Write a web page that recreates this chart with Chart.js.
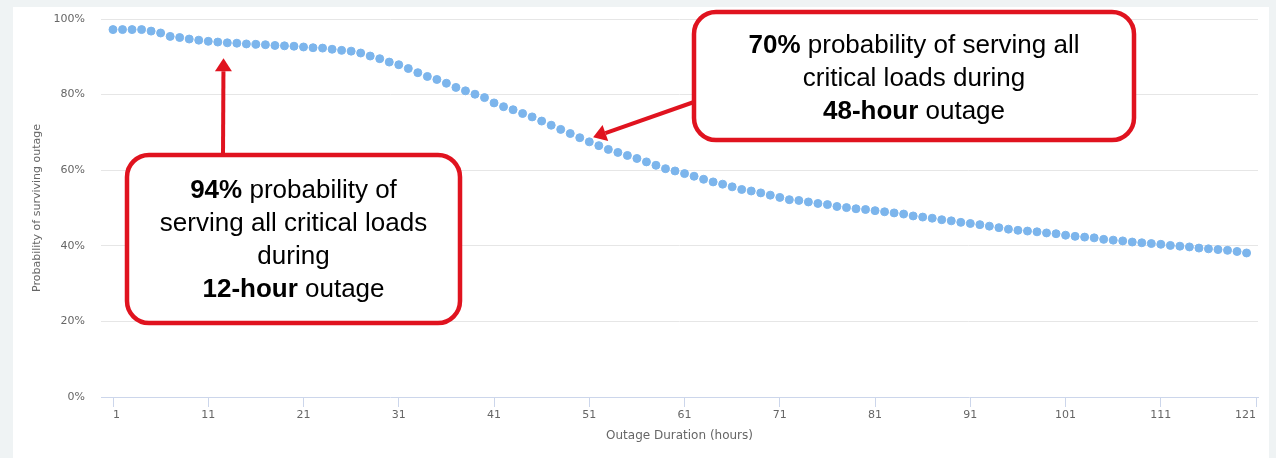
<!DOCTYPE html>
<html>
<head>
<meta charset="utf-8">
<script src="https://cdn.jsdelivr.net/npm/chart.js@4.4.0/dist/chart.umd.min.js"></script>
<style>
  html, body { margin: 0; padding: 0; background: #eff3f4; }
  #wrap { position: relative; width: 1276px; height: 458px; overflow: hidden; }
  #panel { position: absolute; left: 13px; top: 7px; width: 1256px; height: 451px; background: #fff; }
  #chart { position: absolute; left: 0; top: 0; }
</style>
</head>
<body>
<div id="wrap">
  <div id="panel"></div>
  <canvas id="chart" width="1276" height="458"></canvas>
</div>
<script>
// outage duration in hours
const hours = [
  1, 2, 3, 4, 5, 6, 7, 8, 9, 10, 11, 12, 13, 14, 15, 16, 17, 18, 19, 20,
  21, 22, 23, 24, 25, 26, 27, 28, 29, 30, 31, 32, 33, 34, 35, 36, 37, 38, 39, 40,
  41, 42, 43, 44, 45, 46, 47, 48, 49, 50, 51, 52, 53, 54, 55, 56, 57, 58, 59, 60,
  61, 62, 63, 64, 65, 66, 67, 68, 69, 70, 71, 72, 73, 74, 75, 76, 77, 78, 79, 80,
  81, 82, 83, 84, 85, 86, 87, 88, 89, 90, 91, 92, 93, 94, 95, 96, 97, 98, 99, 100,
  101, 102, 103, 104, 105, 106, 107, 108, 109, 110, 111, 112, 113, 114, 115, 116, 117, 118, 119, 120
];

// probability of surviving outage (%)
const survival = [
  97.2, 97.2, 97.2, 97.2, 96.8, 96.3, 95.4, 95.1, 94.7, 94.4,
  94.1, 93.9, 93.7, 93.6, 93.4, 93.3, 93.2, 93.0, 92.9, 92.8,
  92.6, 92.4, 92.3, 92.0, 91.7, 91.5, 91.0, 90.2, 89.5, 88.6,
  87.9, 86.9, 85.8, 84.8, 84.0, 83.0, 81.9, 81.0, 80.1, 79.2,
  77.8, 76.8, 76.0, 75.0, 74.1, 73.0, 71.9, 70.8, 69.7, 68.6,
  67.5, 66.5, 65.5, 64.7, 63.9, 63.1, 62.2, 61.3, 60.4, 59.8,
  59.1, 58.4, 57.6, 56.9, 56.3, 55.6, 54.9, 54.5, 54.0, 53.4,
  52.8, 52.2, 52.0, 51.6, 51.2, 50.9, 50.4, 50.1, 49.8, 49.6,
  49.3, 49.0, 48.7, 48.4, 47.9, 47.6, 47.3, 46.9, 46.6, 46.2,
  45.9, 45.6, 45.2, 44.8, 44.4, 44.1, 43.9, 43.7, 43.4, 43.2,
  42.8, 42.5, 42.3, 42.1, 41.7, 41.5, 41.3, 41.0, 40.8, 40.6,
  40.4, 40.1, 39.9, 39.7, 39.4, 39.2, 39.0, 38.8, 38.5, 38.1
];

const xTickValues = [1, 11, 21, 31, 41, 51, 61, 71, 81, 91, 101, 111, 121];
const yTickValues = [0, 20, 40, 60, 80, 100];

const FONT = '"DejaVu Sans", Verdana, sans-serif';
const BOX_FONT = '"Liberation Sans", Arial, sans-serif';
const RED = '#e0131f';

// callout boxes: box in pixels, arrow tip in data units (hour, %)
const callouts = [
  {
    box: { left: 127, top: 155, right: 460, bottom: 323 },
    tail: [223, 155],
    tip: [12.6, 89.6],
    firstLine: 191,
    lines: [
      [['94%', true], [' probability of', false]],
      [['serving all critical loads', false]],
      [['during', false]],
      [['12-hour', true], [' outage', false]]
    ]
  },
  {
    box: { left: 694, top: 12, right: 1134, bottom: 140 },
    tail: [694, 102],
    tip: [51.4, 68.7],
    firstLine: 46,
    lines: [
      [['70%', true], [' probability of serving all', false]],
      [['critical loads during', false]],
      [['48-hour', true], [' outage', false]]
    ]
  }
];

function drawArrow(ctx, x0, y0, x1, y1) {
  const ang = Math.atan2(y1 - y0, x1 - x0);
  const headLen = 13, headHalf = 8.5;
  const bx = x1 - Math.cos(ang) * headLen;
  const by = y1 - Math.sin(ang) * headLen;
  ctx.strokeStyle = RED;
  ctx.fillStyle = RED;
  ctx.lineWidth = 4;
  ctx.beginPath();
  ctx.moveTo(x0, y0);
  ctx.lineTo(bx, by);
  ctx.stroke();
  ctx.beginPath();
  ctx.moveTo(x1, y1);
  ctx.lineTo(bx + Math.sin(ang) * headHalf, by - Math.cos(ang) * headHalf);
  ctx.lineTo(bx - Math.sin(ang) * headHalf, by + Math.cos(ang) * headHalf);
  ctx.closePath();
  ctx.fill();
}

const calloutPlugin = {
  id: 'callouts',
  afterDatasetsDraw(chart) {
    const { ctx, scales } = chart;
    ctx.save();
    callouts.forEach(c => {
      const tipX = scales.x.getPixelForValue(c.tip[0]);
      const tipY = scales.y.getPixelForValue(c.tip[1]);
      drawArrow(ctx, c.tail[0], c.tail[1], tipX, tipY);

      const b = c.box;
      ctx.beginPath();
      ctx.roundRect(b.left, b.top, b.right - b.left, b.bottom - b.top, 22);
      ctx.fillStyle = '#fff';
      ctx.fill();
      ctx.lineWidth = 4.5;
      ctx.strokeStyle = RED;
      ctx.stroke();

      const cx = (b.left + b.right) / 2;
      ctx.fillStyle = '#000';
      ctx.textBaseline = 'middle';
      ctx.textAlign = 'left';
      c.lines.forEach((parts, i) => {
        let total = 0;
        parts.forEach(p => {
          ctx.font = (p[1] ? 'bold ' : '') + '26px ' + BOX_FONT;
          total += ctx.measureText(p[0]).width;
        });
        let x = cx - total / 2;
        const y = c.firstLine + i * 33;
        parts.forEach(p => {
          ctx.font = (p[1] ? 'bold ' : '') + '26px ' + BOX_FONT;
          ctx.fillText(p[0], x, y);
          x += ctx.measureText(p[0]).width;
        });
      });
    });
    ctx.restore();
  }
};

new Chart(document.getElementById('chart'), {
  type: 'scatter',
  data: {
    datasets: [{
      data: hours.map((h, i) => ({ x: h, y: survival[i] })),
      backgroundColor: '#7cb5ec',
      borderColor: '#7cb5ec',
      borderWidth: 1,
      pointRadius: 4,
      showLine: false
    }]
  },
  options: {
    responsive: false,
    animation: false,
    layout: { autoPadding: false, padding: { top: 19, right: 18, bottom: 0, left: 0 } },
    plugins: {
      legend: { display: false },
      tooltip: { enabled: false }
    },
    scales: {
      x: {
        type: 'linear',
        min: -0.26,
        max: 121.2,
        afterBuildTicks: s => { s.ticks = xTickValues.map(v => ({ value: v })); },
        afterFit: s => { s.height = 61; s.paddingLeft = 0; s.paddingRight = 0; },
        grid: { drawOnChartArea: false, drawTicks: true, tickLength: 10, color: '#ccd6eb' },
        border: { color: '#ccd6eb' },
        ticks: {
          autoSkip: false,
          maxRotation: 0,
          align: 'inner',
          padding: 2,
          color: '#666',
          font: { family: FONT, size: 11 }
        },
        title: {
          display: true,
          text: 'Outage Duration (hours)',
          color: '#666',
          font: { family: FONT, size: 12 },
          padding: { top: 0, bottom: 15 }
        }
      },
      y: {
        min: 0,
        max: 100,
        afterBuildTicks: s => { s.ticks = yTickValues.map(v => ({ value: v })); },
        afterFit: s => { s.width = 101; s.paddingTop = 0; s.paddingBottom = 0; },
        grid: {
          drawTicks: false,
          color: ctx => (ctx.tick && ctx.tick.value === 0) ? 'rgba(0,0,0,0)' : '#e6e6e6'
        },
        border: { display: false },
        ticks: {
          padding: 16,
          color: '#666',
          font: { family: FONT, size: 11 },
          callback: v => v + '%'
        },
        title: {
          display: true,
          text: 'Probability of surviving outage',
          color: '#666',
          font: { family: FONT, size: 11 },
          padding: { top: 31, bottom: 0 }
        }
      }
    }
  },
  plugins: [calloutPlugin]
});
</script>
</body>
</html>
